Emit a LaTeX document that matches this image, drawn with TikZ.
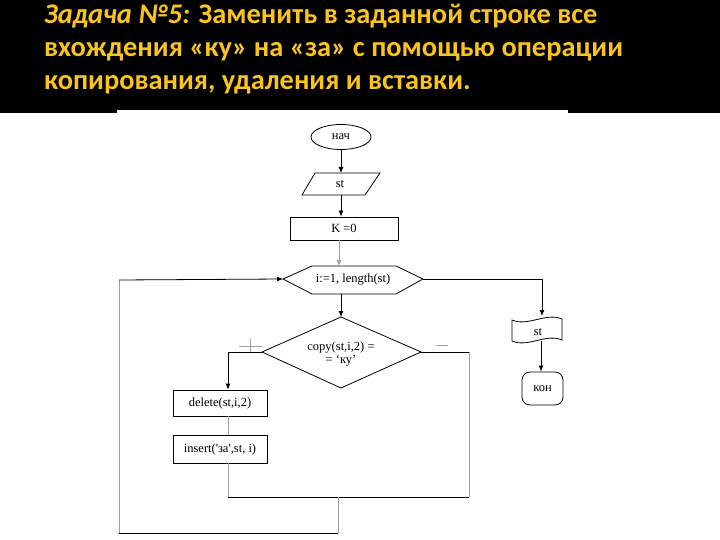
\documentclass[tikz,border=0pt]{standalone}
\usepackage{fontspec}
\setmainfont{Liberation Serif}
\newfontfamily\plainserif{Liberation Serif}[Ligatures=TeXOff]
\newfontfamily\titlefont{Carlito}
\usetikzlibrary{arrows.meta,shapes.geometric}
\definecolor{titlegold}{RGB}{250,195,30}
\tikzset{
  ln/.style={draw=black,line width=0.8pt},
  gln/.style={draw=gray!75,line width=0.9pt},
  arr/.style={ln,-{Latex[length=6pt,width=5pt]}},
  garr/.style={gln,-{Latex[length=6pt,width=5pt]}},
  fbox/.style={draw=black,line width=0.8pt,fill=white,rectangle,inner sep=0pt},
  ftxt/.style={font=\fontsize{12.5}{13.5}\selectfont,inner sep=0pt,align=center},
  ttl/.style={font=\titlefont\bfseries\fontsize{28.4}{32}\selectfont,text=titlegold,anchor=base west,inner sep=0pt}
}
\begin{document}
\begin{tikzpicture}[x=1pt,y=-1pt]
\useasboundingbox (0,0) rectangle (720,540);
\fill[white] (0,0) rectangle (720,540);
\fill[black] (0,0) rectangle (720,113);
\fill[white] (117,110) rectangle (568,540);

% title
\node[ttl] (t1) at (44,24) {\textit{Задача №5:} Заменить в заданной строке все};
\node[ttl] (t2) at (44,57) {вхождения «ку» на «за» с помощью операции};
\node[ttl] (t3) at (44,90) {копирования, удаления и вставки.};

% start
\node[ellipse,draw,line width=0.8pt,minimum width=60pt,minimum height=25pt,inner sep=0pt,ftxt] (start) at (341,137) {нач};

% input parallelogram
\draw[ln] (315,173) -- (380,173) -- (365,195) -- (302,195) -- cycle;
\node[ftxt] (inp) at (340,184) {st};
\coordinate (inpT) at (341,173);
\coordinate (inpB) at (341,195);

% K=0
\node[fbox,minimum width=108pt,minimum height=23pt,ftxt] (k) at (344,228.5) {K =0};

% hexagon loop
\coordinate (hL) at (283,279);
\coordinate (hR) at (423,279);
\coordinate (hT) at (339,266);
\coordinate (hB) at (341,294);
\draw[ln] (hL) -- (312,266) -- (396,266) -- (hR) -- (396,294) -- (312,294) -- cycle;
\node[ftxt] (hex) at (353,279.5) {i:=1, length(st)};

% diamond
\coordinate (dT) at (341,317);
\coordinate (dL) at (262,352);
\coordinate (dR) at (421,352);
\coordinate (dB) at (341,388);
\draw[ln] (dT) -- (dR) -- (dB) -- (dL) -- cycle;
\node[ftxt,align=center] (cond) at (341,354) {copy(st,i,2) =\\= ‘ку’};

% delete / insert
\node[fbox,minimum width=94pt,minimum height=26pt,ftxt] (del) at (220,403) {delete(st,i,2)};
\node[fbox,minimum width=94pt,minimum height=28pt,ftxt] (ins) at (220,449) {\plainserif insert('за',st, i)};

% output document
\draw[ln] (512,320) .. controls (528,327) and (546,312) .. (562,319)
  -- (562,340) .. controls (546,333) and (528,348) .. (512,341) -- cycle;
\node[ftxt] (out) at (538,332) {st};
\coordinate (outT) at (542,316);
\coordinate (outB) at (541,341);

% end
\node[draw,line width=0.8pt,rounded corners=8pt,minimum width=41pt,minimum height=33pt,inner sep=0pt,ftxt] (fin) at (542.5,388.5) {кон};

% labels + / -
\draw[gln,line width=0.9pt] (239,346) -- (262,346);
\draw[gln,line width=0.9pt] (250.5,339) -- (250.5,352);
\draw[gln,line width=0.9pt] (436,345) -- (448,345);

% connectors
\draw[arr] (start.south) -- (inpT);
\draw[arr] (inpB) -- (inpB |- k.north);
\draw[garr] (k.south -| hT) -- (hT);
\draw[arr] (hB) -- (dT);
\draw[ln] (hR) -- (542,279);
\draw[arr] (542,279) -- (outT);
\draw[arr] (outB) -- (fin.north -| outB);

\coordinate (yesC) at (228,352);
\draw[arr] (dL) -- (yesC) -- (yesC |- del.north);
\draw[gln] (del.south -| yesC) -- (ins.north -| yesC);

\coordinate (j1) at (228,497);
\coordinate (j2) at (469,497);
\coordinate (noC) at (469,352);
\coordinate (m) at (338,497);
\coordinate (lb) at (338,533);
\coordinate (ll) at (119,533);
\coordinate (lt) at (119,280);
\draw[gln] (ins.south -| j1) -- (j1);
\draw[ln] (j1) -- (j2);
\draw[ln] (dR) -- (noC);
\draw[gln] (noC) -- (j2);
\draw[gln] (m) -- (lb);
\draw[ln] (lb) -- (ll);
\draw[gln] (ll) -- (lt);
\draw[arr] (lt) -- (hL);
\end{tikzpicture}
\end{document}
